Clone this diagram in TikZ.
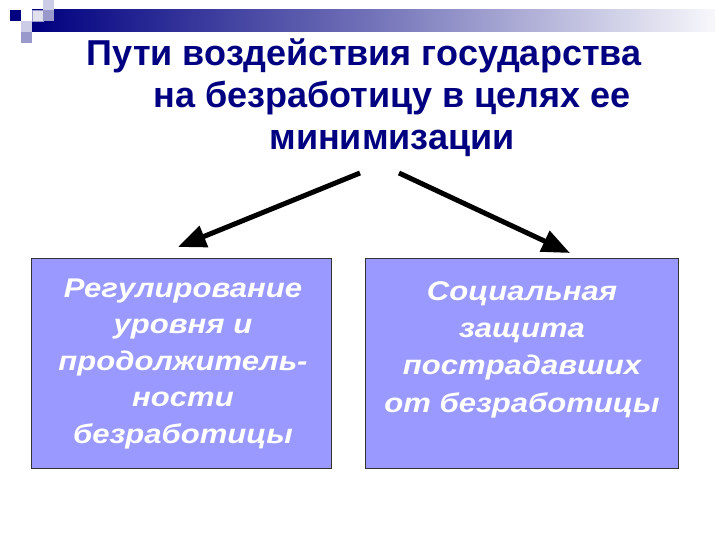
\documentclass[tikz,border=0pt]{standalone}
\usepackage{fontspec}
\setmainfont{Liberation Sans}
\newfontfamily\panelfont[FakeStretch=1.15]{Liberation Sans}
\usetikzlibrary{arrows.meta}
\definecolor{navy}{RGB}{0,0,128}
\definecolor{boxfill}{RGB}{153,153,255}
\definecolor{lav}{RGB}{204,204,230}
\definecolor{lavmid}{RGB}{153,153,204}
\definecolor{pale}{RGB}{225,225,238}
\begin{document}
\begin{tikzpicture}[x=1pt,y=-1pt,
  titleline/.style={anchor=base,text=navy,font=\fontsize{36}{42}\selectfont\bfseries,inner sep=0},
  panel/.style={draw=black!80,line width=0.8pt,fill=boxfill,minimum width=#1,minimum height=210,inner sep=0,anchor=north west},
  paneltext/.style={anchor=base,text=white,align=center,inner sep=0,font=\panelfont\fontsize{27}{#1}\selectfont\bfseries\itshape},
  bigarrow/.style={line width=5pt,-{Triangle[length=28pt,width=22pt]}},
  sq/.style={inner sep=0,minimum size=11,anchor=north west,draw=none}]
\useasboundingbox (0,0) rectangle (720,540);
% top decoration
\shade[left color=navy,right color=navy!3,middle color=navy!55] (32,10) rectangle (715,32);
\node[sq,fill=navy] (s1) at (10,10) {};
\node[sq,fill=lav] (s2) at (43,0) {};
\node[sq,fill=pale,draw=lavmid,line width=0.4pt] (s3) at (32,10) {};
\node[sq,fill=lavmid] (s4) at (43,10) {};
\node[sq,fill=lav] (s5) at (21,21) {};
\node[sq,fill=lavmid] (s6) at (21,32) {};
% title
\node[titleline] (t1) at (364,66) {Пути воздействия государства};
\node[titleline] (t2) at (392,108) {на безработицу в целях ее};
\node[titleline] (t3) at (392,150) {минимизации};
% arrows
\coordinate (la) at (360,173);
\coordinate (lb) at (178,247);
\coordinate (ra) at (399,173);
\coordinate (rb) at (570,253);
\draw[bigarrow] (la) -- (lb);
\draw[bigarrow] (ra) -- (rb);
% panels
\node[panel=300] (left) at (31,258) {};
\node[panel=313] (right) at (365,258) {};
\node[paneltext=36.5] (lt) at (183,443) {Регулирование\\уровня и\\продолжитель-\\ности\\безработицы};
\node[paneltext=37.3] (rt) at (522,412) {Социальная\\защита\\пострадавших\\от безработицы};
\end{tikzpicture}
\end{document}
